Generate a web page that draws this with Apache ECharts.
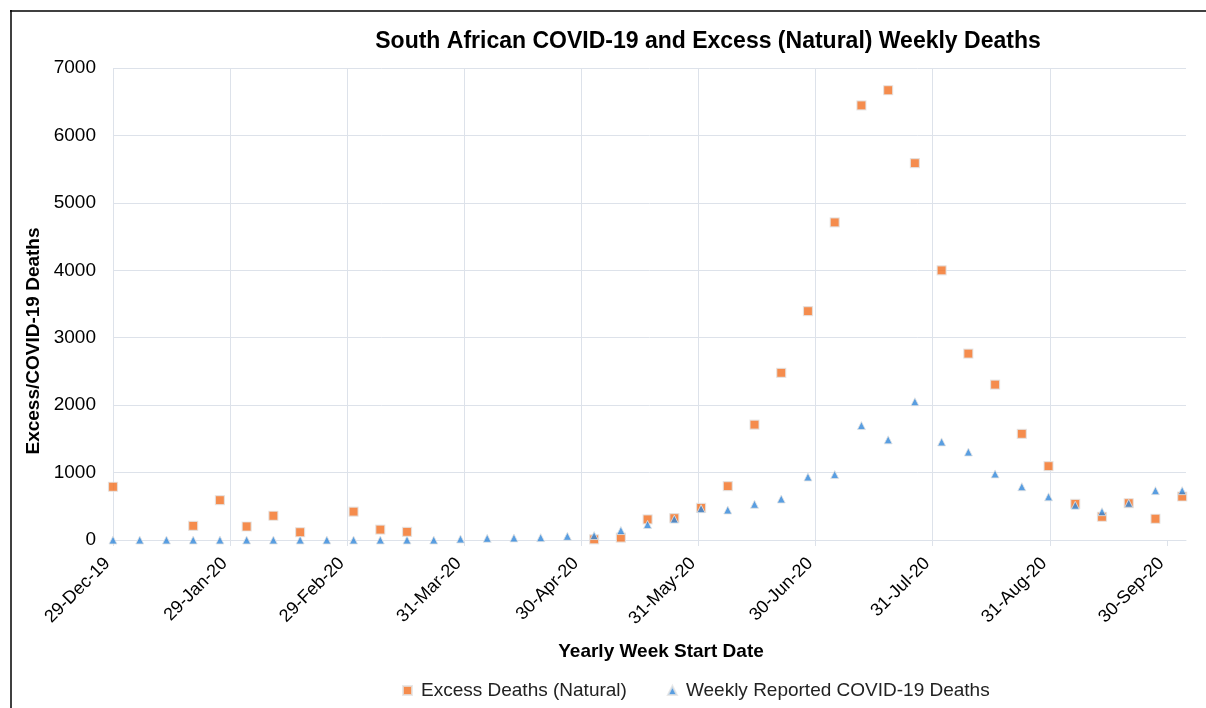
<!DOCTYPE html>
<html>
<head>
<meta charset="utf-8">
<script src="https://cdn.jsdelivr.net/npm/echarts@6/dist/echarts.min.js"></script>
<style>
  html, body { margin: 0; padding: 0; background: #ffffff; }
  #chart { width: 1206px; height: 708px; }
</style>
</head>
<body>
<div id="chart"></div>
<script>
// Week index 0 = week starting 29-Dec-19, one point per week
const weekDays = [0, 7, 14, 21, 28, 35, 42, 49, 56, 63, 70, 77, 84, 91, 98, 105, 112, 119, 126, 133,
  140, 147, 154, 161, 168, 175, 182, 189, 196, 203, 210, 217, 224, 231, 238, 245, 252, 259, 266, 273, 280];

const excessDeaths = [790, null, null, 210, 590, 200, 360, 115, null, 420,
  155, 120, null, null, null, null, null, null, 10, 35,
  305, 325, 475, 800, 1710, 2480, 3395, 4710, 6445, 6670,
  5590, 4000, 2765, 2305, 1575, 1095, 535, 345, 545, 315, 645];

const covidDeaths = [0, 0, 0, 0, 0, 0, 0, 0, 0, 0,
  0, 0, 0, 15, 25, 30, 35, 55, 65, 140,
  230, 310, 465, 445, 530, 608, 935, 970, 1697, 1485,
  2050, 1455, 1305, 980, 790, 640, 515, 420, 545, 732, 732];

const tickLabels = ['29-Dec-19', '29-Jan-20', '29-Feb-20', '31-Mar-20', '30-Apr-20',
  '31-May-20', '30-Jun-20', '31-Jul-20', '31-Aug-20', '30-Sep-20'];

const seriesNames = ['Excess Deaths (Natural)', 'Weekly Reported COVID-19 Deaths'];

const tickStep = 276 / 9;
const tickValues = tickLabels.map((_, i) => i * tickStep);

const chart = echarts.init(document.getElementById('chart'));
const font = 'Liberation Sans, Arial, sans-serif';
const gridColor = '#dde2ea';

chart.setOption({
  animation: false,
  backgroundColor: '#ffffff',
  textStyle: { fontFamily: font },
  title: {
    text: 'South African COVID-19 and Excess (Natural) Weekly Deaths',
    left: 703,
    top: 25,
    textAlign: 'center',
    textStyle: { fontFamily: font, fontSize: 23, fontWeight: 'bold', color: '#000' }
  },
  grid: { left: 113, right: 20, top: 68, bottom: 168 },
  legend: {
    data: seriesNames,
    left: 397,
    top: 676,
    itemGap: 40,
    itemWidth: 9,
    itemHeight: 9,
    textStyle: { fontFamily: font, fontSize: 19, color: '#222', padding: [0, 0, 0, 4] }
  },
  xAxis: {
    type: 'value',
    min: 0,
    max: 281,
    interval: tickStep,
    name: 'Yearly Week Start Date',
    nameLocation: 'middle',
    nameGap: 102,
    nameTextStyle: { fontFamily: font, fontSize: 19, fontWeight: 'bold', color: '#000', padding: [0, 0, 0, 23] },
    axisLine: { show: true, lineStyle: { color: gridColor, width: 1 } },
    axisTick: { show: true, length: 6, lineStyle: { color: gridColor }, customValues: tickValues },
    splitLine: { show: true, showMaxLine: false, lineStyle: { color: gridColor, width: 1 } },
    axisLabel: {
      rotate: 45,
      margin: 15,
      fontFamily: font,
      fontSize: 18,
      color: '#000',
      padding: [0, 8, 0, 0],
      customValues: tickValues,
      formatter: function (v) {
        const i = Math.round(v / tickStep);
        if (Math.abs(v - i * tickStep) < 0.01 && i < tickLabels.length) return tickLabels[i];
        return '';
      }
    }
  },
  yAxis: {
    type: 'value',
    min: 0,
    max: 7000,
    interval: 1000,
    name: 'Excess/COVID-19 Deaths',
    nameLocation: 'middle',
    nameRotate: 90,
    nameGap: 68,
    nameTextStyle: { fontFamily: font, fontSize: 19, fontWeight: 'bold', color: '#000', padding: [0, 74, 0, 0] },
    axisLine: { show: false },
    axisTick: { show: false },
    splitLine: { show: true, lineStyle: { color: gridColor, width: 1 } },
    axisLabel: {
      fontFamily: font, fontSize: 19, color: '#000', margin: 17,
      formatter: function (v) { return String(v); }
    }
  },
  series: [
    {
      name: seriesNames[0],
      type: 'scatter',
      symbol: 'rect',
      symbolSize: 9,
      itemStyle: { color: '#F36F21', borderColor: '#e4e4e4', borderWidth: 1.2 },
      data: weekDays.map((d, i) => [d, excessDeaths[i]])
    },
    {
      name: seriesNames[1],
      type: 'scatter',
      symbol: 'triangle',
      symbolSize: 8,
      itemStyle: { color: '#2F86D9', borderColor: '#e4e4e4', borderWidth: 1 },
      data: weekDays.map((d, i) => [d, covidDeaths[i]])
    }
  ],
  graphic: [
    { type: 'line', shape: { x1: 11, y1: 10, x2: 11, y2: 708 }, style: { stroke: '#000', lineWidth: 1.5 } },
    { type: 'line', shape: { x1: 10, y1: 11, x2: 1206, y2: 11 }, style: { stroke: '#000', lineWidth: 1.5 } }
  ]
});
</script>
</body>
</html>
